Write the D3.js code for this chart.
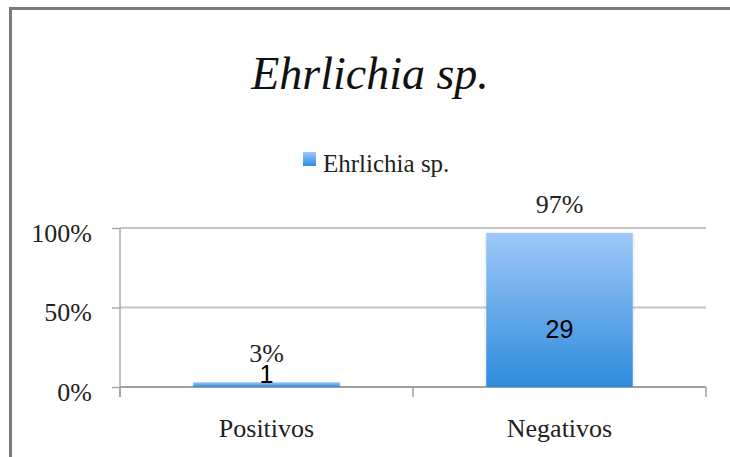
<!DOCTYPE html>
<html>
<head>
<meta charset="utf-8">
<script src="https://cdn.jsdelivr.net/npm/d3@7"></script>
<style>
  body { margin: 0; background: #fff; }
  text { font-family: 'Liberation Serif', serif; fill: #222; }
  .count { font-family: 'Liberation Sans', Arial, sans-serif; fill: #000; }
</style>
</head>
<body>
<svg width="730" height="457"></svg>
<script>
const svg = d3.select('svg');

const width = +svg.attr('width');
const height = +svg.attr('height');

// chart values
const categories = ['Positivos', 'Negativos'];
const percents = [3, 97];
const counts = [1, 29];
const yTicks = [0, 50, 100];
const seriesName = 'Ehrlichia sp.';
const chartTitle = 'Ehrlichia sp.';

const margin = { top: 228, left: 120 };
const innerWidth = 586;
const innerHeight = 159;

// outer frame (only top and left visible)
svg.append('path')
  .attr('d', `M10.5,${height} V8.5 H${width}`)
  .attr('fill', 'none')
  .attr('stroke', '#7a7a7a')
  .attr('stroke-width', 3);

const grad = svg.append('defs').append('linearGradient')
  .attr('id', 'barGrad')
  .attr('x1', 0).attr('y1', 0).attr('x2', 0).attr('y2', 1);
grad.append('stop').attr('offset', '0%').attr('stop-color', '#9fc8f9');
grad.append('stop').attr('offset', '100%').attr('stop-color', '#2e8bdb');

// title
svg.append('text')
  .attr('x', 370)
  .attr('y', 89)
  .attr('text-anchor', 'middle')
  .attr('font-size', 46)
  .attr('font-style', 'italic')
  .style('fill', '#111')
  .text(chartTitle);

// legend
const legendG = svg.append('g').attr('transform', 'translate(303,152)');
legendG.append('rect')
  .attr('width', 13).attr('height', 14)
  .attr('fill', 'url(#barGrad)');
legendG.append('text')
  .attr('x', 20)
  .attr('y', 20)
  .attr('font-size', 25)
  .text(seriesName);

const g = svg.append('g')
  .attr('transform', `translate(${margin.left},${margin.top})`);

const xScale = d3.scaleBand()
  .domain(categories)
  .range([0, innerWidth])
  .paddingInner(0.5)
  .paddingOuter(0.25);

const yScale = d3.scaleLinear()
  .domain([0, 100])
  .range([innerHeight, 0]);

// gridlines
g.selectAll('line.grid')
  .data(yTicks.filter(d => d > 0))
  .join('line')
    .attr('class', 'grid')
    .attr('x1', 0).attr('x2', innerWidth)
    .attr('y1', d => yScale(d)).attr('y2', d => yScale(d))
    .attr('stroke', '#c4c4c4')
    .attr('stroke-width', 2);

// y axis
const yAxis = d3.axisLeft(yScale)
  .tickValues(yTicks)
  .tickSize(8)
  .tickPadding(20)
  .tickFormat(d => d + '%');
const yAxisG = g.append('g').call(yAxis);
yAxisG.select('.domain')
  .attr('d', `M0,0 V${yScale(0) + 10}`)
  .attr('stroke', '#a8a8a8')
  .attr('stroke-width', 1.5);
yAxisG.selectAll('.tick line')
  .attr('stroke', '#a8a8a8')
  .attr('stroke-width', 1.5);
yAxisG.selectAll('.tick text')
  .attr('font-size', 26)
  .attr('font-family', 'Liberation Serif, serif')
  .attr('fill', '#222')
  .attr('dy', '0.5em');

// x axis baseline, category boundary ticks and labels
const xAxisG = g.append('g').attr('transform', `translate(0,${yScale(0)})`);
xAxisG.append('line')
  .attr('x1', 0).attr('x2', innerWidth)
  .attr('stroke', '#a0a0a0')
  .attr('stroke-width', 2);
xAxisG.selectAll('line.xtick')
  .data(d3.range(categories.length + 1))
  .join('line')
    .attr('class', 'xtick')
    .attr('x1', i => i * xScale.step()).attr('x2', i => i * xScale.step())
    .attr('y1', 0).attr('y2', 10)
    .attr('stroke', '#a0a0a0')
    .attr('stroke-width', 1.5);
xAxisG.selectAll('text.xlabel')
  .data(categories)
  .join('text')
    .attr('class', 'xlabel')
    .attr('x', d => xScale(d) + xScale.bandwidth() / 2)
    .attr('y', 50)
    .attr('text-anchor', 'middle')
    .attr('font-size', 26)
    .text(d => d);

// bars
const rows = categories.map((c, i) => ({ cat: c, pct: percents[i], count: counts[i] }));

g.selectAll('rect.shadow')
  .data(rows)
  .join('rect')
    .attr('class', 'shadow')
    .attr('x', d => xScale(d.cat) - 2)
    .attr('y', d => yScale(d.pct) + 1)
    .attr('width', xScale.bandwidth() + 4)
    .attr('height', d => yScale(0) - yScale(d.pct) - 1)
    .attr('fill', '#000')
    .attr('opacity', 0.05);

g.selectAll('rect.bar')
  .data(rows)
  .join('rect')
    .attr('class', 'bar')
    .attr('x', d => xScale(d.cat))
    .attr('y', d => yScale(d.pct))
    .attr('width', xScale.bandwidth())
    .attr('height', d => yScale(0) - yScale(d.pct))
    .attr('fill', 'url(#barGrad)');

// percent labels above bars
g.selectAll('text.pct')
  .data(rows)
  .join('text')
    .attr('class', 'pct')
    .attr('x', d => xScale(d.cat) + xScale.bandwidth() / 2)
    .attr('y', d => yScale(d.pct) - 20)
    .attr('text-anchor', 'middle')
    .attr('font-size', 26)
    .text(d => d.pct + '%');

// count labels
g.selectAll('text.count')
  .data(rows)
  .join('text')
    .attr('class', 'count')
    .attr('x', d => xScale(d.cat) + xScale.bandwidth() / 2)
    .attr('y', d => d.pct > 50 ? yScale(0) - 49 : yScale(d.pct) + 1)
    .attr('text-anchor', 'middle')
    .attr('font-size', 25)
    .text(d => d.count);
</script>
</body>
</html>
